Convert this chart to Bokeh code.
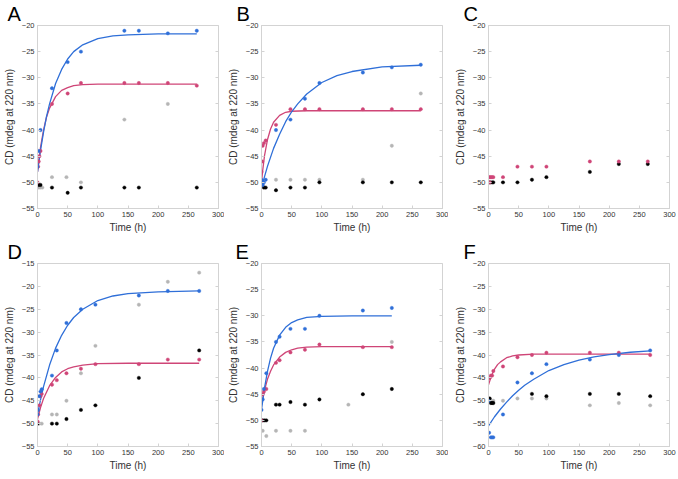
from bokeh.plotting import figure
from bokeh.layouts import column, row
from bokeh.models import Range1d, FixedTicker, LinearAxis, CustomJSTickFormatter
from bokeh.embed import file_html
from bokeh.resources import INLINE

BLUE = "#2f6fd8"
PINK = "#cf4577"
GRAY = "#b5b5b5"
BLACK = "#000000"
FONT = "Liberation Sans"

x_ticks = [0, 50, 100, 150, 200, 250, 300]
y_ticks_a = [-55, -50, -45, -40, -35, -30, -25, -20]
y_ticks_d = [-55, -50, -45, -40, -35, -30, -25, -20, -15]
y_ticks_f = [-60, -55, -50, -45, -40, -35, -30, -25, -20]

# ---------------- Panel A ----------------
a_blue_t = [0, 2, 5, 24, 50, 72, 144, 168, 216, 264]
a_blue_y = [-47, -44, -40, -32, -27, -25, -21, -21, -21.5, -21]
a_pink_t = [0, 1, 2, 3, 5, 24, 50, 72, 144, 168, 216, 264]
a_pink_y = [-50, -47, -46, -45, -44, -35, -33, -31, -31, -31, -31, -31.5]
a_gray_t = [2, 5, 8, 24, 48, 72, 144, 216]
a_gray_y = [-51, -51, -51, -49, -49, -50, -38, -35]
a_black_t = [2, 5, 24, 50, 72, 144, 168, 264]
a_black_y = [-50.5, -50.5, -51, -52, -51, -51, -51, -51]
a_bfit_t = [0, 5, 10, 15, 20, 30, 40, 50, 60, 75, 100, 125, 150, 200, 264]
a_bfit_y = [-48, -43.9, -40.4, -37.4, -35.0, -31.1, -28.4, -26.4, -25.0, -23.7, -22.5, -22.0, -21.8, -21.6, -21.6]
a_pfit_t = [0, 5, 10, 15, 20, 30, 40, 50, 60, 75, 100, 150, 264]
a_pfit_y = [-48, -43.3, -40.0, -37.5, -35.8, -33.6, -32.4, -31.9, -31.5, -31.3, -31.2, -31.2, -31.2]

# ---------------- Panel B ----------------
b_blue_t = [0, 1, 2, 4, 7, 24, 48, 72, 96, 168, 216, 264]
b_blue_y = [-49.5, -50, -50.5, -50, -49.5, -40, -38, -34, -31, -29, -28, -27.5]
b_pink_t = [0, 1, 2, 4, 7, 24, 48, 72, 96, 168, 216, 264]
b_pink_y = [-48, -46, -43, -42.5, -42, -39, -36, -36, -36, -36, -36, -36]
b_gray_t = [0, 2, 24, 48, 72, 96, 168, 216, 264]
b_gray_y = [-50.5, -50.5, -49.5, -49.5, -49.5, -49.5, -49.5, -43, -33]
b_black_t = [4, 7, 24, 48, 72, 96, 168, 216, 264]
b_black_y = [-51, -51, -51.5, -51, -51, -50, -50, -50, -50]
b_bfit_t = [0, 5, 10, 20, 30, 40, 50, 60, 75, 100, 125, 150, 200, 264]
b_bfit_y = [-51, -48.9, -46.9, -43.5, -40.8, -38.4, -36.5, -35.0, -33.1, -30.9, -29.6, -28.8, -27.9, -27.6]
b_pfit_t = [0, 2, 5, 10, 15, 20, 30, 40, 50, 75, 150, 264]
b_pfit_y = [-50, -47.7, -44.9, -41.8, -39.8, -38.5, -37.2, -36.6, -36.4, -36.3, -36.3, -36.3]

# ---------------- Panel C ----------------
c_pink_t = [0, 2, 4, 6, 8, 0, 2, 24, 48, 72, 96, 168, 216, 264]
c_pink_y = [-49, -49, -49, -49, -49, -50, -50, -49, -47, -47, -47, -46, -46, -46]
c_black_t = [0, 3, 6, 8, 24, 48, 72, 96, 168, 216, 264]
c_black_y = [-50, -50, -50, -50, -50, -50, -49.5, -49, -48, -46.5, -46.5]

# ---------------- Panel D ----------------
d_blue_t = [0, 1, 3, 5, 7, 24, 32, 48, 72, 96, 168, 216, 268]
d_blue_y = [-48, -47, -44, -43, -42.5, -39.5, -34, -28, -25, -24, -22, -21, -21]
d_pink_t = [0, 1, 3, 5, 7, 24, 32, 48, 72, 96, 168, 216, 268]
d_pink_y = [-49.5, -48, -46, -44, -43.5, -41.5, -40.5, -39, -38, -37, -37, -36, -36]
d_gray_t = [0, 3, 7, 24, 32, 48, 72, 96, 168, 216, 268]
d_gray_y = [-50, -50, -50, -48, -48, -45, -39, -33, -24, -19, -17]
d_black_t = [0, 24, 32, 48, 72, 96, 168, 268]
d_black_y = [-50, -50, -50, -49, -47, -46, -40, -34]
d_bfit_t = [0, 5, 10, 20, 30, 40, 50, 60, 75, 100, 125, 150, 200, 268]
d_bfit_y = [-48, -44.8, -41.9, -37.2, -33.5, -30.7, -28.5, -26.8, -25.0, -23.1, -22.1, -21.6, -21.2, -21.0]
d_pfit_t = [0, 5, 10, 20, 30, 40, 50, 60, 75, 100, 150, 268]
d_pfit_y = [-49, -46.5, -44.5, -41.7, -39.9, -38.7, -38.0, -37.6, -37.2, -36.9, -36.8, -36.8]

# ---------------- Panel E ----------------
e_blue_t = [0, 2, 4, 8, 24, 30, 48, 72, 96, 168, 216]
e_blue_y = [-48, -46, -44, -41, -35, -34, -32.5, -32.5, -30, -29, -28.5]
e_pink_t = [0, 0, 2, 4, 8, 24, 30, 48, 72, 96, 168, 216]
e_pink_y = [-50, -45, -45, -44.5, -44, -39, -38.5, -37, -36.5, -35.5, -36, -36]
e_gray_t = [2, 8, 24, 48, 72, 144, 216]
e_gray_y = [-52, -53, -52, -52, -52, -47, -35]
e_black_t = [2, 5, 8, 24, 30, 48, 72, 96, 168, 216]
e_black_y = [-50, -50, -50, -47, -47, -46.5, -47, -46, -45, -44]
e_bfit_t = [0, 5, 10, 15, 20, 30, 40, 50, 60, 75, 100, 150, 216]
e_bfit_y = [-48, -43.8, -40.6, -38.1, -36.2, -33.7, -32.2, -31.3, -30.8, -30.3, -30.1, -30.0, -30.0]
e_pfit_t = [0, 5, 10, 15, 20, 30, 40, 50, 60, 75, 100, 150, 216]
e_pfit_y = [-47, -44.2, -42.1, -40.6, -39.4, -37.9, -37.0, -36.5, -36.2, -36.0, -35.9, -35.9, -35.9]

# ---------------- Panel F ----------------
f_blue_t = [0, 1, 4, 6, 8, 24, 48, 72, 96, 168, 216, 268]
f_blue_y = [-50, -57, -58, -58, -58, -53, -46, -44, -42, -41, -40, -39]
f_pink_t = [0, 2, 4, 6, 8, 24, 48, 72, 96, 168, 216, 268]
f_pink_y = [-45, -45, -44.5, -44.5, -43.5, -42.5, -40.5, -40, -39.5, -39.5, -39.5, -40]
f_gray_t = [0, 4, 8, 24, 48, 72, 96, 168, 216, 268]
f_gray_y = [-50, -50, -50, -50, -49.5, -49.5, -49.5, -51, -50.5, -51]
f_black_t = [2, 4, 6, 8, 72, 96, 168, 216, 268]
f_black_y = [-49.5, -50.5, -50.5, -50.5, -48.5, -49, -48.5, -48.5, -49]
f_bfit_t = [0, 10, 20, 30, 40, 50, 60, 75, 100, 125, 150, 175, 200, 235, 268]
f_bfit_y = [-55.5, -53.5, -51.8, -50.3, -48.9, -47.7, -46.6, -45.3, -43.4, -42.1, -41.1, -40.4, -39.9, -39.4, -39.1]
f_pfit_t = [0, 5, 10, 15, 20, 30, 40, 50, 75, 150, 268]
f_pfit_y = [-46.5, -44.5, -43.1, -42.1, -41.5, -40.6, -40.2, -40.0, -39.8, -39.8, -39.8]

FRAME_COL = "#d3d3d3"


def panel(letter, yticks, points, fits, L, R, T, B, lab_dx):
    p = figure(frame_width=181, frame_height=183,
               min_border_left=L, min_border_right=R, min_border_top=T, min_border_bottom=B,
               x_range=Range1d(x_ticks[0], x_ticks[-1]), y_range=Range1d(yticks[0], yticks[-1]),
               output_backend="svg", toolbar_location=None, tools="",
               background_fill_color="white", border_fill_color="white")
    p.grid.visible = False
    p.outline_line_color = FRAME_COL
    p.outline_line_width = 1
    for ax in (p.xaxis[0], p.yaxis[0]):
        ax.axis_line_color = FRAME_COL
        ax.major_tick_line_color = FRAME_COL
        ax.major_tick_in = 3
        ax.major_tick_out = 0
        ax.minor_tick_line_color = None
        ax.major_label_text_font = FONT
        ax.major_label_text_font_size = "7.5px"
        ax.major_label_text_color = "#333333"
        ax.major_label_standoff = 3
        ax.axis_label_text_font = FONT
        ax.axis_label_text_font_size = "10px"
        ax.axis_label_text_font_style = "normal"
        ax.axis_label_text_color = "#333333"
    p.xaxis.ticker = FixedTicker(ticks=x_ticks)
    p.yaxis.ticker = FixedTicker(ticks=yticks)
    p.xaxis.axis_label = "Time (h)"
    p.yaxis.axis_label = "CD (mdeg at 220 nm)"
    p.xaxis.axis_label_standoff = 2
    p.yaxis.axis_label_standoff = 4

    blank = CustomJSTickFormatter(code="return ''")
    right = LinearAxis(ticker=FixedTicker(ticks=yticks), formatter=blank,
                       axis_line_color=None, major_tick_line_color=FRAME_COL,
                       major_tick_in=3, major_tick_out=0, minor_tick_line_color=None,
                       major_label_standoff=0)
    p.add_layout(right, "right")

    p.title.text = letter
    p.title.text_font = FONT
    p.title.text_font_size = "20px"
    p.title.text_font_style = "normal"
    p.title.text_color = "black"
    p.title.align = "left"
    p.title.offset = lab_dx
    p.title.standoff = 1

    for (t, y, c) in fits:
        p.line(t, y, line_color=c, line_width=1.3)
    for (t, y, c) in points:
        p.scatter(t, y, size=3.4, fill_color=c, line_color=c, line_width=0.4)
    return p


pA = panel("A", y_ticks_a,
           [(a_gray_t, a_gray_y, GRAY), (a_black_t, a_black_y, BLACK),
            (a_pink_t, a_pink_y, PINK), (a_blue_t, a_blue_y, BLUE)],
           [(a_pfit_t, a_pfit_y, PINK), (a_bfit_t, a_bfit_y, BLUE)],
           30, 6, 22, 30, -30)
pB = panel("B", y_ticks_a,
           [(b_gray_t, b_gray_y, GRAY), (b_black_t, b_black_y, BLACK),
            (b_pink_t, b_pink_y, PINK), (b_blue_t, b_blue_y, BLUE)],
           [(b_pfit_t, b_pfit_y, PINK), (b_bfit_t, b_bfit_y, BLUE)],
           31, 6, 22, 30, -25)
pC = panel("C", y_ticks_a,
           [(c_black_t, c_black_y, BLACK), (c_pink_t, c_pink_y, PINK)],
           [],
           40, 10, 22, 30, -25)
pD = panel("D", y_ticks_d,
           [(d_gray_t, d_gray_y, GRAY), (d_black_t, d_black_y, BLACK),
            (d_pink_t, d_pink_y, PINK), (d_blue_t, d_blue_y, BLUE)],
           [(d_pfit_t, d_pfit_y, PINK), (d_bfit_t, d_bfit_y, BLUE)],
           30, 6, 22, 26, -30)
pE = panel("E", y_ticks_a,
           [(e_gray_t, e_gray_y, GRAY), (e_black_t, e_black_y, BLACK),
            (e_pink_t, e_pink_y, PINK), (e_blue_t, e_blue_y, BLUE)],
           [(e_pfit_t, e_pfit_y, PINK), (e_bfit_t, e_bfit_y, BLUE)],
           31, 6, 22, 26, -26)
pF = panel("F", y_ticks_f,
           [(f_gray_t, f_gray_y, GRAY), (f_black_t, f_black_y, BLACK),
            (f_pink_t, f_pink_y, PINK), (f_blue_t, f_blue_y, BLUE)],
           [(f_pfit_t, f_pfit_y, PINK), (f_bfit_t, f_bfit_y, BLUE)],
           40, 10, 22, 26, -25)

layout = column(row(pA, pB, pC, spacing=0), row(pD, pE, pF, spacing=0), spacing=0)

open("out.html", "w").write(file_html(layout, INLINE))
